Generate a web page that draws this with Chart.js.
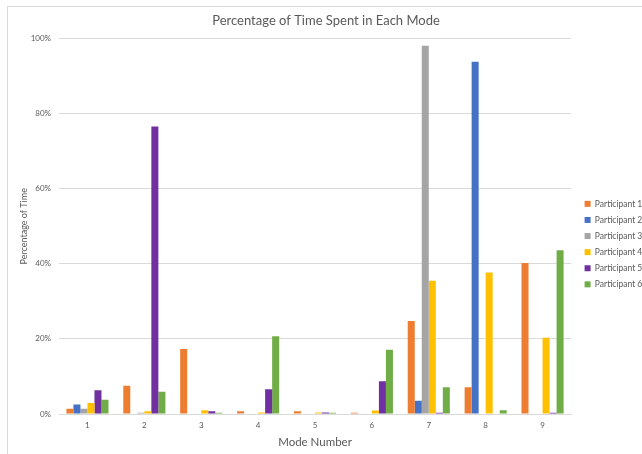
<!DOCTYPE html>
<html>
<head>
<meta charset="utf-8">
<script src="https://cdn.jsdelivr.net/npm/chart.js@4"></script>
<style>
  html, body { margin: 0; padding: 0; background: #fff; }
  #wrap { position: relative; width: 642px; height: 454px; }
  #frame { position: absolute; left: 7px; top: 6px; right: -2px; bottom: -2px;
           border-left: 1px solid #d9d9d9; border-top: 1px solid #d9d9d9; pointer-events: none; }
  canvas { position: absolute; left: 0; top: 0; }
</style>
</head>
<body>
<div id="wrap">
  <canvas id="canvas" width="642" height="454"></canvas>
  <div id="frame"></div>
</div>
<script>
// mode numbers on the x axis
const modes = ['1', '2', '3', '4', '5', '6', '7', '8', '9'];

// percent of time in each mode
const participant1 = [1.4, 7.5, 17.3, 0.7, 0.7, 0.3, 24.8, 7.1, 40.2];
const participant2 = [2.5, 0, 0, 0, 0, 0, 3.5, 93.8, 0];
const participant3 = [1.4, 0.3, 0, 0, 0, 0, 98.1, 0, 0];
const participant4 = [2.9, 0.7, 1.0, 0.4, 0.4, 0.9, 35.5, 37.7, 20.3];
const participant5 = [6.3, 76.6, 0.7, 6.6, 0.4, 8.7, 0.3, 0, 0.3];
const participant6 = [3.8, 5.9, 0.3, 20.7, 0.3, 17.1, 7.1, 1.0, 43.6];

const yTicks = [0, 20, 40, 60, 80, 100];

const textColor = '#595959';
const fontFamily = 'Lato, "Open Sans", sans-serif';

function bars(label, data, color) {
    return { label: label, data: data, backgroundColor: color, borderWidth: 0 };
}

let options = {
    type: 'bar',
    data: {
        labels: modes,
        datasets: [
            bars('Participant 1', participant1, '#ED7D31'),
            bars('Participant 2', participant2, '#4472C4'),
            bars('Participant 3', participant3, '#A5A5A5'),
            bars('Participant 4', participant4, '#FFC000'),
            bars('Participant 5', participant5, '#7030A0'),
            bars('Participant 6', participant6, '#70AD47')
        ]
    },
    options: {
        responsive: false,
        animation: false,
        devicePixelRatio: 1,
        categoryPercentage: 0.74,
        barPercentage: 1.0,
        layout: { padding: { left: 10, right: 0, top: 0, bottom: 4 } },
        plugins: {
            title: {
                display: true,
                text: 'Percentage of Time Spent in Each Mode',
                color: textColor,
                font: { family: fontFamily, size: 13, weight: 'normal' },
                padding: { top: 13, bottom: 10 }
            },
            legend: {
                position: 'right',
                maxWidth: 65,
                // blank title only pushes the entries down a bit
                title: {
                    display: true,
                    text: ' ',
                    font: { family: fontFamily, size: 8.5 },
                    padding: { top: 14, bottom: 14 }
                },
                labels: {
                    color: textColor,
                    boxWidth: 6,
                    boxHeight: 6,
                    padding: 7.6,
                    font: { family: fontFamily, size: 8.5 }
                }
            },
            tooltip: { enabled: false }
        },
        scales: {
            x: {
                grid: { display: false, drawTicks: false },
                border: { display: true, color: '#d9d9d9', width: 1 },
                ticks: { color: textColor, padding: 7, font: { family: fontFamily, size: 8 } },
                title: {
                    display: true,
                    text: 'Mode Number',
                    color: textColor,
                    font: { family: fontFamily, size: 11.5 },
                    padding: { top: 0, bottom: 1 }
                },
                afterFit: function(scale) { scale.height = 36; }
            },
            y: {
                min: 0,
                max: 100,
                afterBuildTicks: function(scale) {
                    scale.ticks = yTicks.map(function(v) { return { value: v }; });
                },
                grid: { color: '#d9d9d9', drawTicks: false },
                border: { display: false },
                ticks: {
                    color: textColor,
                    padding: 8,
                    font: { family: fontFamily, size: 8 },
                    callback: function(v) { return v + '%'; }
                },
                title: {
                    display: true,
                    text: 'Percentage of Time',
                    color: textColor,
                    font: { family: fontFamily, size: 9 },
                    padding: { top: 8.6, bottom: 0 }
                },
                afterFit: function(scale) { scale.width = 49; }
            },
            gap: {
                // empty strip between plot and legend
                type: 'linear',
                position: 'right',
                grid: { display: false },
                border: { display: false },
                ticks: { display: false },
                afterFit: function(scale) { scale.width = 6; }
            }
        }
    }
};

let chart = new Chart(document.getElementById('canvas'), options);
</script>
</body>
</html>
